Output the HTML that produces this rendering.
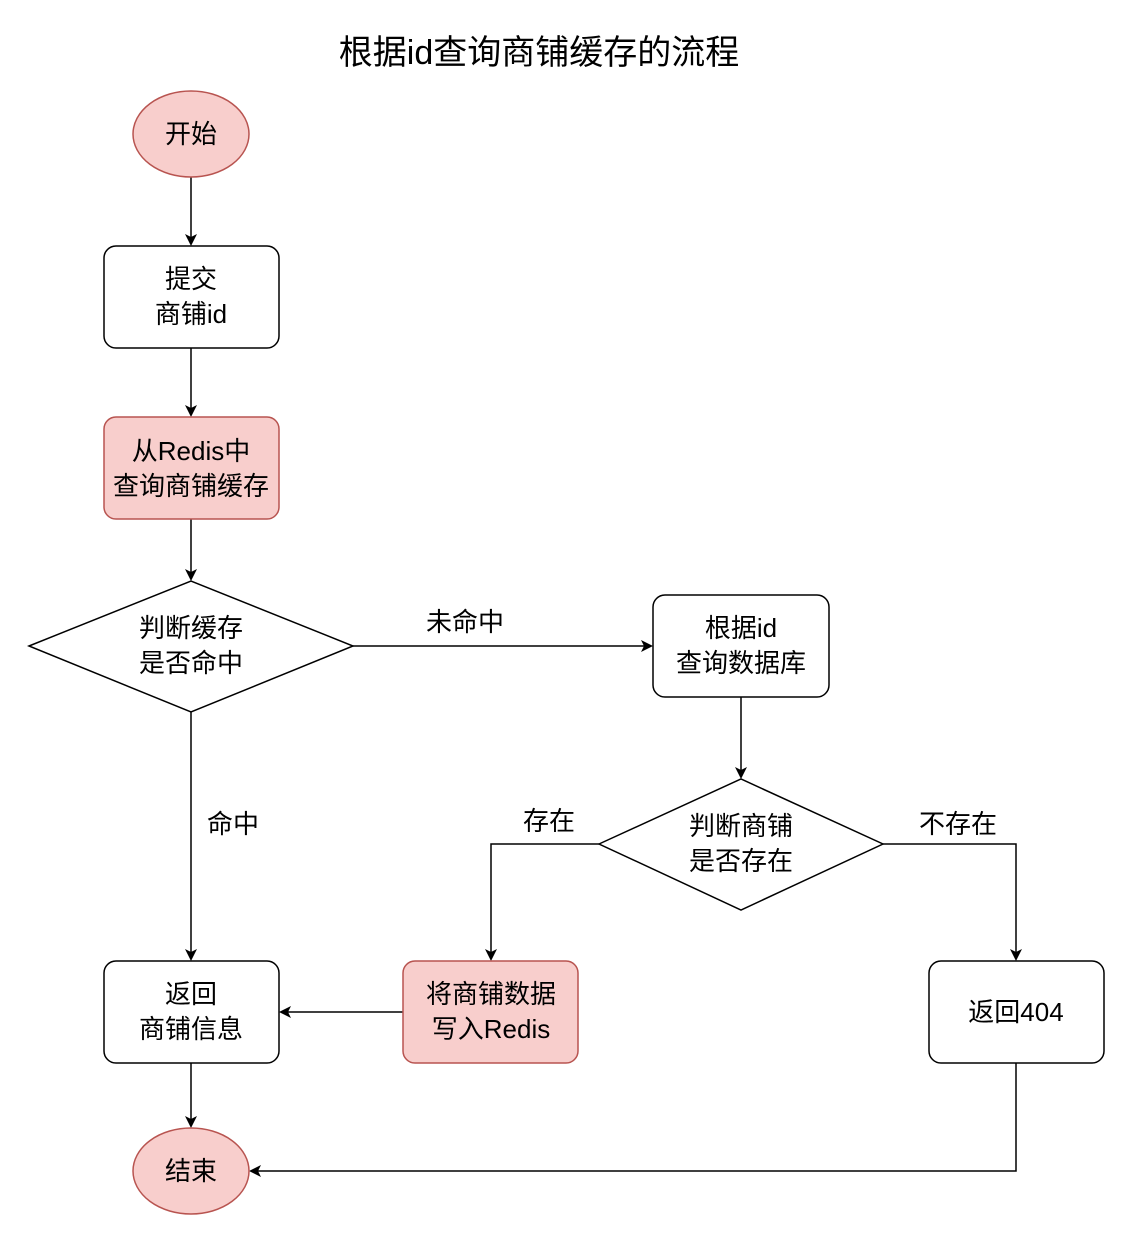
<!DOCTYPE html>
<html><head><meta charset="utf-8"><style>html,body{margin:0;padding:0;background:#fff}</style></head>
<body>
<svg width="1145" height="1245" xmlns="http://www.w3.org/2000/svg" font-family="Liberation Sans, Noto Sans CJK SC, sans-serif">
<defs><marker id="a" markerWidth="12" markerHeight="12" refX="10" refY="6" orient="auto" markerUnits="userSpaceOnUse"><path d="M0,0 L12,6 L0,12 L3,6 Z" fill="#000"/></marker></defs>
<rect width="1145" height="1245" fill="#fff"/>
<text x="539" y="64" font-size="34" text-anchor="middle">根据id查询商铺缓存的流程</text>
<g stroke="#000" stroke-width="1.5" fill="none">
<line x1="191" y1="177" x2="191" y2="244" marker-end="url(#a)"/>
<line x1="191" y1="348" x2="191" y2="415" marker-end="url(#a)"/>
<line x1="191" y1="519" x2="191" y2="579" marker-end="url(#a)"/>
<line x1="353" y1="646" x2="651" y2="646" marker-end="url(#a)"/>
<line x1="191" y1="712" x2="191" y2="959" marker-end="url(#a)"/>
<line x1="741" y1="697" x2="741" y2="777" marker-end="url(#a)"/>
<polyline points="599,844 491,844 491,959" marker-end="url(#a)"/>
<polyline points="883,844 1016,844 1016,959" marker-end="url(#a)"/>
<line x1="403" y1="1012" x2="281" y2="1012" marker-end="url(#a)"/>
<line x1="191" y1="1063" x2="191" y2="1126" marker-end="url(#a)"/>
<polyline points="1016,1063 1016,1171 251,1171" marker-end="url(#a)"/>
</g>
<g stroke-width="1.5">
<ellipse cx="191" cy="134" rx="58" ry="43" fill="#f8cecc" stroke="#b85450"/>
<rect x="104" y="246" width="175" height="102" rx="12" fill="#fff" stroke="#000"/>
<rect x="104" y="417" width="175" height="102" rx="12" fill="#f8cecc" stroke="#b85450"/>
<polygon points="29,646 191,581 353,646 191,712" fill="#fff" stroke="#000"/>
<rect x="653" y="595" width="176" height="102" rx="12" fill="#fff" stroke="#000"/>
<polygon points="599,844 741,779 883,844 741,910" fill="#fff" stroke="#000"/>
<rect x="104" y="961" width="175" height="102" rx="12" fill="#fff" stroke="#000"/>
<rect x="403" y="961" width="175" height="102" rx="12" fill="#f8cecc" stroke="#b85450"/>
<rect x="929" y="961" width="175" height="102" rx="12" fill="#fff" stroke="#000"/>
<ellipse cx="191" cy="1171" rx="58" ry="43" fill="#f8cecc" stroke="#b85450"/>
</g>
<g font-size="26" text-anchor="middle" fill="#000">
<text x="191" y="143">开始</text>
<text x="191" y="288">提交</text><text x="191" y="323">商铺id</text>
<text x="191" y="460">从Redis中</text><text x="191" y="495">查询商铺缓存</text>
<text x="191" y="637">判断缓存</text><text x="191" y="672">是否命中</text>
<text x="741" y="637">根据id</text><text x="741" y="672">查询数据库</text>
<text x="741" y="835">判断商铺</text><text x="741" y="870">是否存在</text>
<text x="191" y="1003">返回</text><text x="191" y="1038">商铺信息</text>
<text x="491" y="1003">将商铺数据</text><text x="491" y="1038">写入Redis</text>
<text x="1016" y="1021">返回404</text>
<text x="191" y="1180">结束</text>
<text x="465" y="631">未命中</text>
<text x="233" y="833">命中</text>
<text x="549" y="830">存在</text>
<text x="958" y="833">不存在</text>
</g>
</svg>
</body></html>
